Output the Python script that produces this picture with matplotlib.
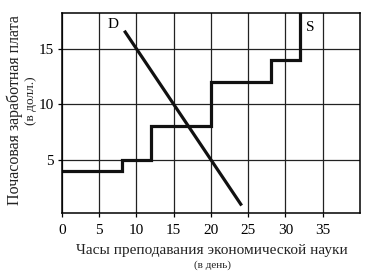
import matplotlib.pyplot as plt

plt.rcParams['font.family'] = ['Liberation Serif', 'DejaVu Serif']

# supply (S) - step line
s_hours = [0, 8, 8, 12, 12, 20, 20, 28, 28, 32, 32]
s_wage = [4, 4, 5, 5, 8, 8, 12, 12, 14, 14, 18.2]

# demand (D) - straight line
d_hours = [8.5, 24]
d_wage = [16.5, 1]

x_ticks = [0, 5, 10, 15, 20, 25, 30, 35]
y_ticks = [5, 10, 15]

fig = plt.figure(figsize=(3.75, 2.8), dpi=100)
ax = fig.add_axes([0.165, 0.239, 0.795, 0.716])

ax.set_xlim(0, 40)
ax.set_ylim(0.2, 18.25)
ax.set_xticks(x_ticks)
ax.set_yticks(y_ticks)
ax.grid(True, color='#222222', linewidth=0.9)
ax.set_axisbelow(True)
ax.tick_params(direction='out', length=3, width=0.9, labelsize=11)
ax.tick_params(axis='x', pad=5)
ax.tick_params(axis='y', pad=3)
for sp in ax.spines.values():
    sp.set_linewidth(1.1)

ax.plot(s_hours, s_wage, color='#111111', linewidth=2.3, solid_joinstyle='miter')
ax.plot(d_hours, d_wage, color='#111111', linewidth=2.3)

ax.text(6.8, 17.2, 'D', fontsize=11, ha='center', va='center')
ax.text(33.3, 16.9, 'S', fontsize=11, ha='center', va='center')

fig.text(0.566, 0.104, 'Часы преподавания экономической науки',
         fontsize=11, ha='center', va='center', color='#222222')
fig.text(0.566, 0.054, '(в день)', fontsize=8, ha='center', va='center', color='#222222')
fig.text(0.04, 0.607, 'Почасовая заработная плата', fontsize=11.5,
         rotation=90, ha='center', va='center', color='#222222')
fig.text(0.083, 0.64, '(в долл.)', fontsize=9.5, rotation=90,
         ha='center', va='center', color='#222222')

fig.savefig('out.png', dpi=100)
